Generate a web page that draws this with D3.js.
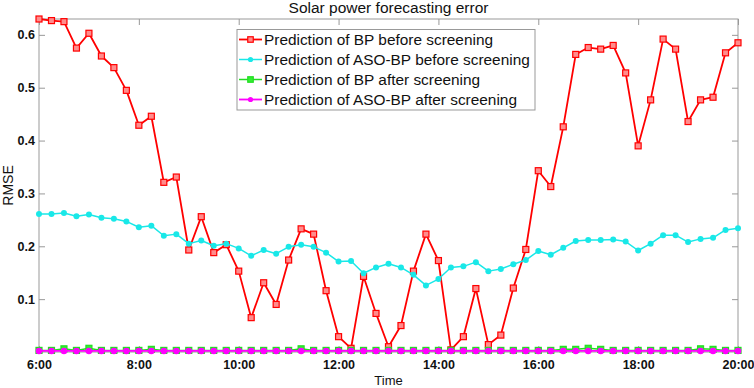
<!DOCTYPE html>
<html>
<head>
<meta charset="utf-8">
<script src="https://cdn.jsdelivr.net/npm/d3@7"></script>
<style>
  body { margin: 0; background: #fff; }
  svg { font-family: Arial, "Liberation Sans", sans-serif; display: block; }
</style>
</head>
<body>
<svg id="chart"></svg>
<script>
// data, sampled every 15 min from 6:00 to 20:00
const width = 754;
const height = 388;

const hours = d3.range(0, 57).map((i) => 6 + i * 0.25);
const xTicks = [6, 8, 10, 12, 14, 16, 18, 20];
const yTicks = [0.1, 0.2, 0.3, 0.4, 0.5, 0.6];

const bpBefore = [0.630,0.627,0.625,0.575,0.603,0.560,0.538,0.495,0.429,0.446,
  0.321,0.331,0.193,0.256,0.188,0.203,0.153,0.065,0.131,0.090,
  0.174,0.233,0.223,0.116,0.029,0.007,0.143,0.073,0.010,0.050,
  0.153,0.223,0.173,0.004,0.029,0.120,0.014,0.032,0.121,0.194,
  0.343,0.313,0.426,0.563,0.576,0.573,0.580,0.528,0.390,0.477,
  0.592,0.573,0.436,0.477,0.482,0.566,0.585];
const asoBefore = [0.261,0.261,0.263,0.257,0.260,0.254,0.252,0.247,0.236,0.239,
  0.220,0.223,0.205,0.211,0.201,0.205,0.196,0.182,0.193,0.186,
  0.199,0.203,0.199,0.188,0.171,0.172,0.149,0.160,0.167,0.160,
  0.146,0.126,0.138,0.160,0.162,0.170,0.153,0.157,0.166,0.174,
  0.191,0.184,0.197,0.210,0.212,0.212,0.213,0.209,0.192,0.205,
  0.221,0.221,0.208,0.214,0.216,0.231,0.234];
const bpAfter = [0.003,0.003,0.006,0.003,0.007,0.003,0.003,0.003,0.003,0.005,
  0.003,0.003,0.003,0.003,0.003,0.003,0.003,0.003,0.003,0.003,
  0.003,0.006,0.003,0.003,0.003,0.003,0.003,0.003,0.003,0.003,
  0.003,0.003,0.003,0.003,0.003,0.003,0.003,0.003,0.003,0.003,
  0.003,0.003,0.005,0.005,0.007,0.005,0.003,0.003,0.003,0.003,
  0.003,0.003,0.003,0.006,0.005,0.003,0.003];
const asoAfter = [0.002,0.002,0.002,0.002,0.002,0.002,0.002,0.002,0.002,0.002,
  0.002,0.002,0.002,0.002,0.002,0.002,0.002,0.002,0.002,0.002,
  0.002,0.002,0.002,0.002,0.002,0.002,0.002,0.002,0.002,0.002,
  0.002,0.002,0.002,0.002,0.002,0.002,0.002,0.002,0.002,0.002,
  0.002,0.002,0.002,0.002,0.002,0.002,0.002,0.002,0.002,0.002,
  0.002,0.002,0.002,0.002,0.002,0.002,0.002];

const seriesNames = [
  "Prediction of BP before screening",
  "Prediction of ASO-BP before screening",
  "Prediction of BP after screening",
  "Prediction of ASO-BP after screening",
];

// styles
const series = [
  { name: seriesNames[0], values: bpBefore, color: "#ff0000", marker: "square", size: 6, fill: "#ff8c8c", lw: 1.8 },
  { name: seriesNames[1], values: asoBefore, color: "#19e8e8", marker: "circle", size: 3, fill: "#19e8e8", lw: 1.5 },
  { name: seriesNames[2], values: bpAfter, color: "#22dd22", marker: "square", size: 6, fill: "#33ee33", lw: 1.5 },
  { name: seriesNames[3], values: asoAfter, color: "#ff00ff", marker: "circle", size: 3.3, fill: "#ff00ff", lw: 1.8 },
];

const margin = { top: 19, right: 16, bottom: 36, left: 39 };
const axisColor = "#999";

const svg = d3.select("#chart").attr("width", width).attr("height", height);

const x = d3.scaleLinear().domain([6, 20]).range([margin.left, width - margin.right]);
const y = d3.scaleLinear().domain([0, 0.63]).range([height - margin.bottom, margin.top]);

const fmtTime = (h) => `${h}:00`;

// axes box
svg.append("rect")
  .attr("x", x(6)).attr("y", y(0.63))
  .attr("width", x(20) - x(6)).attr("height", y(0) - y(0.63))
  .attr("fill", "none").attr("stroke", axisColor).attr("stroke-width", 1);

function styleAxis(g) {
  g.select(".domain").remove();
  g.selectAll(".tick line").attr("stroke", axisColor);
  g.selectAll(".tick text")
    .attr("fill", "#111")
    .attr("font-size", 12.5)
    .attr("font-weight", "bold");
}

svg.append("g")
  .attr("transform", `translate(0,${y(0)})`)
  .call(d3.axisBottom(x).tickValues(xTicks).tickFormat(fmtTime).tickSizeInner(-6).tickSizeOuter(0).tickPadding(8))
  .call(styleAxis);

svg.append("g")
  .attr("transform", `translate(0,${y(0.63)})`)
  .call(d3.axisTop(x).tickValues(xTicks).tickFormat("").tickSizeInner(-6).tickSizeOuter(0))
  .call(styleAxis);

svg.append("g")
  .attr("transform", `translate(${x(6)},0)`)
  .call(d3.axisLeft(y).tickValues(yTicks).tickFormat(d3.format(".1f")).tickSizeInner(-6).tickSizeOuter(0).tickPadding(4))
  .call(styleAxis);

svg.append("g")
  .attr("transform", `translate(${x(20)},0)`)
  .call(d3.axisRight(y).tickValues(yTicks).tickFormat("").tickSizeInner(-6).tickSizeOuter(0))
  .call(styleAxis);

// lines + markers
const line = d3.line().x((d, i) => x(hours[i])).y((d) => y(d));

function drawMarkers(g, s, pts) {
  if (s.marker === "square") {
    g.selectAll("rect.m").data(pts).enter().append("rect")
      .attr("class", "m")
      .attr("x", (d) => d[0] - s.size / 2).attr("y", (d) => d[1] - s.size / 2)
      .attr("width", s.size).attr("height", s.size)
      .attr("fill", s.fill).attr("stroke", s.color).attr("stroke-width", 1.2);
  } else {
    g.selectAll("circle.m").data(pts).enter().append("circle")
      .attr("class", "m")
      .attr("cx", (d) => d[0]).attr("cy", (d) => d[1]).attr("r", s.size)
      .attr("fill", s.fill);
  }
}

series.forEach((s) => {
  const g = svg.append("g");
  g.append("path")
    .attr("d", line(s.values))
    .attr("fill", "none")
    .attr("stroke", s.color)
    .attr("stroke-width", s.lw)
    .attr("stroke-linejoin", "round");
  drawMarkers(g, s, s.values.map((v, i) => [x(hours[i]), y(v)]));
});

// title and axis labels
svg.append("text")
  .attr("x", (x(6) + x(20)) / 2).attr("y", 13)
  .attr("text-anchor", "middle")
  .attr("font-size", 15.5)
  .attr("fill", "#111")
  .text("Solar power forecasting error");

svg.append("text")
  .attr("x", (x(6) + x(20)) / 2).attr("y", 385)
  .attr("text-anchor", "middle")
  .attr("font-size", 13)
  .attr("fill", "#111")
  .text("Time");

svg.append("text")
  .attr("transform", `translate(13,${(y(0) + y(0.63)) / 2}) rotate(-90)`)
  .attr("text-anchor", "middle")
  .attr("font-size", 14)
  .attr("fill", "#111")
  .text("RMSE");

// legend
const legend = svg.append("g").attr("transform", "translate(237,29.5)");
legend.append("rect")
  .attr("width", 298).attr("height", 80.5)
  .attr("fill", "#fff").attr("stroke", axisColor);

const rowY = d3.scalePoint().domain(seriesNames).range([10, 70]);

series.forEach((s) => {
  const row = legend.append("g").attr("transform", `translate(0,${rowY(s.name)})`);
  row.append("line")
    .attr("x1", 2).attr("x2", 25).attr("y1", 0).attr("y2", 0)
    .attr("stroke", s.color).attr("stroke-width", s.lw);
  drawMarkers(row, Object.assign({}, s, { size: s.marker === "square" ? 5.5 : 2.6 }), [[13.5, 0]]);
  row.append("text")
    .attr("x", 27).attr("y", 0).attr("dy", "0.36em")
    .attr("font-size", 15.4)
    .attr("fill", "#111")
    .text(s.name);
});
</script>
</body>
</html>
